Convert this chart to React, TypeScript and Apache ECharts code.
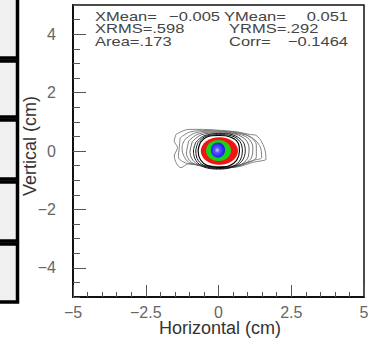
import React, { useEffect, useRef } from 'react';
import * as echarts from 'echarts';

// ---- data ----
const xRange = [-5, 5];
const yRange = [-5, 5];
const xTickStep = 2.5;
const yMinorStep = 0.5;
const yMajorTicks = [-4, -2, 0, 2, 4];
const xTitle = 'Horizontal (cm)';
const yTitle = 'Vertical (cm)';
const statsNames = ['XMean=', 'YMean=', 'XRMS=.598', 'YRMS=.292', 'Area=.173', 'Corr='];
const statsValues = ['\u22120.005', '0.051', '\u22120.1464'];

// contour lines (x, y in cm), outermost first
const contourG5 = [[-1.46, 0.57], [-1.01, 0.74], [-0.55, 0.74], [0.02, 0.71], [0.6, 0.66], [1.05, 0.57], [1.33, 0.51], [1.57, 0.12], [1.63, -0.28], [1.46, -0.34], [1.16, -0.39], [0.81, -0.51], [0.37, -0.57], [-0.09, -0.55], [-0.56, -0.51], [-1.01, -0.43], [-1.29, -0.57], [-1.52, -0.17], [-1.41, 0.12], [-1.52, 0.34]];
const contourG4 = [[-1.32, 0.45], [-0.95, 0.66], [-0.4, 0.7], [0.2, 0.68], [0.8, 0.6], [1.2, 0.42], [1.45, 0.1], [1.48, -0.22], [1.2, -0.32], [0.7, -0.48], [0.1, -0.54], [-0.6, -0.48], [-1.1, -0.42], [-1.38, -0.2], [-1.35, 0.1]];
const contourG3 = [[-1.15, 0.4], [-0.8, 0.62], [-0.2, 0.68], [0.5, 0.65], [1.05, 0.5], [1.3, 0.2], [1.3, -0.2], [0.95, -0.42], [0.3, -0.54], [-0.45, -0.5], [-1.0, -0.4], [-1.22, -0.1], [-1.25, 0.15]];
const contourG2 = [[-1.02, 0.35], [-0.7, 0.58], [-0.15, 0.65], [0.5, 0.62], [1.0, 0.45], [1.18, 0.12], [1.12, -0.25], [0.8, -0.48], [0.25, -0.57], [-0.4, -0.54], [-0.88, -0.42], [-1.1, -0.08]];
const contourG1 = [[-0.9, 0.32], [-0.6, 0.55], [-0.1, 0.62], [0.45, 0.6], [0.9, 0.42], [1.05, 0.1], [1.0, -0.25], [0.7, -0.5], [0.2, -0.58], [-0.35, -0.56], [-0.8, -0.4], [-0.98, -0.05]];
const contourD3 = [[-0.78, 0.3], [-0.5, 0.52], [0, 0.6], [0.5, 0.55], [0.84, 0.32], [0.92, 0.0], [0.8, -0.35], [0.45, -0.56], [0, -0.62], [-0.5, -0.55], [-0.78, -0.32], [-0.86, 0]];
const contourD2 = [[-0.7, 0.3], [-0.45, 0.5], [0, 0.56], [0.45, 0.52], [0.74, 0.32], [0.82, 0.0], [0.72, -0.35], [0.4, -0.56], [0, -0.6], [-0.42, -0.54], [-0.7, -0.32], [-0.78, 0]];
const contourD1 = [[-0.62, 0.3], [-0.4, 0.48], [0, 0.53], [0.4, 0.48], [0.66, 0.3], [0.72, 0.0], [0.62, -0.32], [0.35, -0.52], [0, -0.56], [-0.38, -0.5], [-0.62, -0.3], [-0.7, 0]];

// filled cores: [cx, cy, rx, ry]
const coreRed = [0.03, 0.0, 0.64, 0.47];
const coreGreen = [0.0, 0.02, 0.43, 0.36];
const coreBlue = [-0.02, 0.03, 0.245, 0.26];

const FONT = '"Liberation Sans", Arial, Helvetica, sans-serif';
const fmtMinus = (v: number) => String(v).replace('-', '\u2212');

export default function App() {
  const ref = useRef<HTMLDivElement>(null);
  useEffect(() => {
    if (!ref.current) return;
    const chart = echarts.init(ref.current, null, { renderer: 'svg' });

    const closed = (pts: number[][]) => [...pts, pts[0]];
    const contourSeries = (pts: number[][], color: string, width: number) => ({
      type: 'line',
      data: closed(pts),
      smooth: 0.35,
      symbol: 'none',
      silent: true,
      lineStyle: { color, width },
      xAxisIndex: 0,
      yAxisIndex: 0,
      z: 2,
    });

    const coreSeries = (core: number[], fill: any) => ({
      type: 'custom',
      data: [core],
      xAxisIndex: 0,
      yAxisIndex: 0,
      silent: true,
      z: 3,
      renderItem: (params: any, api: any) => {
        const c = api.coord([api.value(0), api.value(1)]);
        const s = api.size([api.value(2), api.value(3)]);
        return {
          type: 'ellipse',
          shape: { cx: c[0], cy: c[1], rx: s[0], ry: s[1] },
          style: { fill },
        };
      },
    });

    const boxes = [
      [-6, 58],
      [61, 117],
      [120, 179],
      [182, 241],
      [244, 302],
    ];

    const SX = 1.27;
    const st = (text: string, x: number, y: number, align: string = 'left') => ({
      type: 'text',
      x,
      y,
      scaleX: SX,
      style: { text, fill: '#454545', font: `13px ${FONT}`, align, verticalAlign: 'middle' },
    });

    chart.setOption({
      animation: false,
      grid: { left: 73, top: 5, width: 291, height: 292, show: true, borderColor: '#111', borderWidth: 1.5, outerBoundsMode: 'none', containLabel: false },
      xAxis: {
        type: 'value',
        min: xRange[0],
        max: xRange[1],
        interval: xTickStep,
        axisLine: { show: true, onZero: false, lineStyle: { color: '#111', width: 2 } },
        axisTick: { show: true, inside: true, length: 12, lineStyle: { color: '#555', width: 1 } },
        minorTick: { show: true, splitNumber: 5, length: 5, lineStyle: { color: '#555', width: 1 } },
        splitLine: { show: false },
        axisLabel: { margin: 7, color: '#666', fontSize: 16, fontFamily: FONT, formatter: (v: number) => fmtMinus(v) },
      },
      yAxis: [
        {
          type: 'value',
          min: yRange[0],
          max: yRange[1],
          interval: yMinorStep,
          axisLine: { show: true, onZero: false, lineStyle: { color: '#111', width: 2 } },
          axisTick: { show: true, inside: true, length: 7, lineStyle: { color: '#555', width: 1 } },
          splitLine: { show: false },
          axisLabel: { show: false },
        },
        {
          type: 'value',
          min: yRange[0],
          max: yRange[1],
          position: 'left',
          interval: yMinorStep,
          axisLine: { show: false, onZero: false },
          axisTick: { show: true, inside: true, length: 13, customValues: yMajorTicks, lineStyle: { color: '#555', width: 1 } },
          splitLine: { show: false },
          axisLabel: { show: true, customValues: yMajorTicks, margin: 17, color: '#666', fontSize: 16, fontFamily: FONT, formatter: (v: number) => fmtMinus(v) },
        },
      ],
      graphic: [
        ...boxes.map(([t, b]) => ({
          type: 'rect',
          shape: { x: -6, y: t, width: 23.5, height: b - t },
          style: { fill: '#f0f0f0', stroke: '#000', lineWidth: 3.5 },
        })),
        st(statsNames[0], 95, 16.5),
        st(statsValues[0], 220, 16.5, 'right'),
        st(statsNames[1], 224, 16.5),
        st(statsValues[1], 348, 16.5, 'right'),
        st(statsNames[2], 95, 29),
        st(statsNames[3], 229, 29),
        st(statsNames[4], 95, 41.5),
        st(statsNames[5], 229, 41.5),
        st(statsValues[2], 348, 41.5, 'right'),
        { type: 'text', x: 220, y: 328, style: { text: xTitle, fill: '#333', font: `18px ${FONT}`, align: 'center', verticalAlign: 'middle' } },
        { type: 'text', x: 30, y: 146, rotation: Math.PI / 2, style: { text: yTitle, fill: '#333', font: `18px ${FONT}`, align: 'center', verticalAlign: 'middle' } },
      ],
      series: [
        contourSeries(contourG5, '#777', 0.9),
        contourSeries(contourG4, '#777', 0.9),
        contourSeries(contourG3, '#707070', 0.9),
        contourSeries(contourG2, '#666', 0.9),
        contourSeries(contourG1, '#555', 0.9),
        contourSeries(contourD3, '#222', 1),
        contourSeries(contourD2, '#111', 1),
        contourSeries(contourD1, '#000', 1.2),
        coreSeries(coreRed, '#f21414'),
        coreSeries(coreGreen, '#18d418'),
        coreSeries(
          coreBlue,
          new echarts.graphic.RadialGradient(0.45, 0.5, 0.55, [
            { offset: 0, color: '#d8d8ff' },
            { offset: 0.3, color: '#5a5aff' },
            { offset: 1, color: '#1414e6' },
          ])
        ),
      ],
    });
    return () => chart.dispose();
  }, []);
  return <div ref={ref} style={{ position: 'absolute', left: 0, top: 0, width: 374, height: 338 }} />;
}
